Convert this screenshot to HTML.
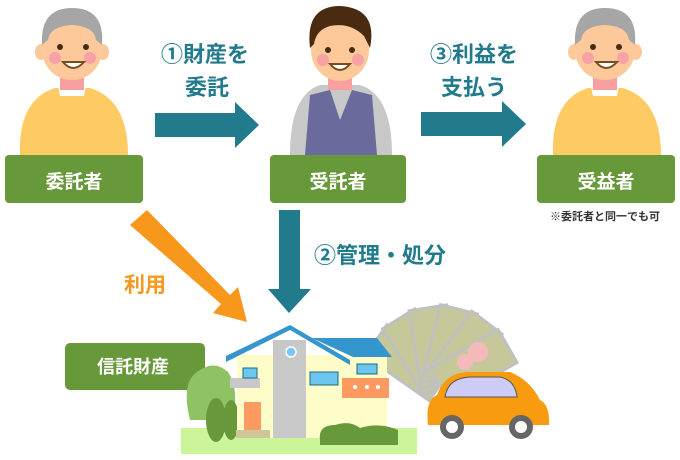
<!DOCTYPE html>
<html><head><meta charset="utf-8"><style>
html,body{margin:0;padding:0;background:#fff;width:680px;height:460px;overflow:hidden}
text{font-family:"Liberation Sans","Noto Sans CJK JP",sans-serif;font-weight:bold}
</style></head><body>
<svg width="680" height="460" viewBox="0 0 680 460" xmlns="http://www.w3.org/2000/svg">
<!-- person 1 -->
<g>
<path d="M20 155 Q18 100 55 88 L90 88 Q128 100 128 155 Z" fill="#fdca63"/>
<path d="M58 86 L86 86 L84 96 L60 96Z" fill="#fff"/>
<rect x="60" y="72" width="24" height="18" fill="#f8a0a0"/>
<ellipse cx="72" cy="50" rx="30" ry="30" fill="#fdc99a"/>
<ellipse cx="41" cy="52" rx="6" ry="8" fill="#fdc99a"/><ellipse cx="103" cy="52" rx="6" ry="8" fill="#fdc99a"/>
<path d="M42 45 Q40 8 72 8 Q105 8 102 45 L96 40 Q94 26 72 25 Q50 26 48 40Z" fill="#a6a6a6"/>
<circle cx="60" cy="47" r="3" fill="#4a2a10"/><circle cx="86" cy="47" r="3" fill="#4a2a10"/>
<circle cx="55" cy="58" r="6" fill="#f7a2a6"/><circle cx="90" cy="58" r="6" fill="#f7a2a6"/>
<path d="M63 62 Q73 74 84 62Z" fill="#fff" stroke="#7a4a20" stroke-width="2"/>
</g>
<rect x="5" y="155" width="138" height="48" rx="4" fill="#67993a"/>
<text x="74" y="188" font-size="19" fill="#fff" text-anchor="middle">委託者</text>
<!-- arrow1 -->
<path d="M155 113 H235 V102 L259 125 L235 148 V137 H155Z" fill="#217b8d"/>
<text x="205" y="62" font-size="22" fill="#217b8d" text-anchor="middle">①財産を</text>
<text x="207" y="95" font-size="22" fill="#217b8d" text-anchor="middle">委託</text>
<!-- person 2 -->
<g>
<path d="M290 155 Q290 95 320 85 L360 85 Q392 95 392 155 Z" fill="#c8c8c8"/>
<path d="M305 155 L310 95 L330 90 L340 120 L352 90 L372 95 L377 155Z" fill="#6a6a9c"/>
<rect x="328" y="72" width="24" height="18" fill="#f8a0a0"/>
<ellipse cx="340" cy="50" rx="29" ry="31" fill="#fdc99a"/>
<path d="M310 48 Q305 6 340 6 Q378 8 370 48 L364 36 Q350 22 330 26 Q316 30 314 44Z" fill="#4a2a10"/>
<circle cx="328" cy="50" r="3" fill="#4a2a10"/><circle cx="352" cy="50" r="3" fill="#4a2a10"/>
<circle cx="323" cy="60" r="6" fill="#f7a2a6"/><circle cx="358" cy="60" r="6" fill="#f7a2a6"/>
<path d="M330 64 Q340 76 350 64Z" fill="#fff" stroke="#7a4a20" stroke-width="2"/>
</g>
<rect x="270" y="155" width="136" height="48" rx="4" fill="#67993a"/>
<text x="338" y="188" font-size="19" fill="#fff" text-anchor="middle">受託者</text>
<!-- arrow3 -->
<path d="M421 112 H502 V101 L526 124 L502 147 V136 H421Z" fill="#217b8d"/>
<text x="474" y="62" font-size="22" fill="#217b8d" text-anchor="middle">③利益を</text>
<text x="474" y="95" font-size="22" fill="#217b8d" text-anchor="middle">支払う</text>
<!-- person 3 -->
<g>
<path d="M553 155 Q551 100 588 88 L623 88 Q661 100 661 155 Z" fill="#fdca63"/>
<path d="M591 86 L619 86 L617 96 L593 96Z" fill="#fff"/>
<rect x="593" y="72" width="24" height="18" fill="#f8a0a0"/>
<ellipse cx="605" cy="50" rx="30" ry="30" fill="#fdc99a"/>
<ellipse cx="574" cy="52" rx="6" ry="8" fill="#fdc99a"/><ellipse cx="636" cy="52" rx="6" ry="8" fill="#fdc99a"/>
<path d="M575 45 Q573 8 605 8 Q638 8 635 45 L629 40 Q627 26 605 25 Q583 26 581 40Z" fill="#a6a6a6"/>
<circle cx="593" cy="47" r="3" fill="#4a2a10"/><circle cx="619" cy="47" r="3" fill="#4a2a10"/>
<circle cx="588" cy="58" r="6" fill="#f7a2a6"/><circle cx="623" cy="58" r="6" fill="#f7a2a6"/>
<path d="M596 62 Q606 74 617 62Z" fill="#fff" stroke="#7a4a20" stroke-width="2"/>
</g>
<rect x="537" y="155" width="138" height="48" rx="4" fill="#67993a"/>
<text x="606" y="188" font-size="19" fill="#fff" text-anchor="middle">受益者</text>
<text x="605" y="220" font-size="11" fill="#333" text-anchor="middle">※委託者と同一でも可</text>
<!-- down arrow -->
<path d="M279 210 H300 V289 H311 L289 313 L268 289 H279Z" fill="#217b8d"/>
<text x="380" y="263" font-size="22" fill="#217b8d" text-anchor="middle">②管理・処分</text>
<!-- orange arrow -->
<path d="M130 225 L147 210 L230 295 L238 287 L247 322 L213 313 L221 304Z" fill="#f7981d"/>
<text x="145" y="292" font-size="21" fill="#f7981d" text-anchor="middle">利用</text>
<!-- trust property label -->
<rect x="65" y="343" width="140" height="47" rx="5" fill="#67993a"/>
<text x="133" y="373" font-size="18" fill="#fff" text-anchor="middle">信託財産</text>
<!-- ground -->
<rect x="181" y="428" width="236" height="26" fill="#ccf59a"/>
<!-- money fan -->
<g fill="#c7c89a" stroke="#c0c0c0" stroke-width="3">
<rect x="440" y="366" width="78" height="38" transform="rotate(-145 440 385)"/>
<rect x="440" y="366" width="78" height="38" transform="rotate(-122 440 385)"/>
<rect x="440" y="366" width="78" height="38" transform="rotate(-99 440 385)"/>
<rect x="440" y="366" width="78" height="38" transform="rotate(-76 440 385)"/>
<rect x="440" y="366" width="78" height="38" transform="rotate(-53 440 385)"/>
<rect x="440" y="366" width="78" height="38" transform="rotate(-30 440 385)"/>
</g>
<circle cx="478" cy="352" r="10" fill="#f6b9b9"/>
<circle cx="465" cy="362" r="8" fill="#f6b9b9"/>
<!-- trees -->
<path d="M190 420 Q180 380 200 370 Q215 360 228 372 Q240 390 232 420Z" fill="#8fc263"/>
<ellipse cx="216" cy="420" rx="10" ry="22" fill="#67993a"/><ellipse cx="231" cy="420" rx="8" ry="20" fill="#67993a"/>
<!-- house -->
<rect x="237" y="355" width="150" height="83" fill="#fefcc8"/>
<rect x="273" y="340" width="33" height="98" fill="#c8c8c8"/>
<path d="M226 362 L290 330 L350 365 L350 360 L290 325 L226 356Z" fill="#3496cc"/>
<path d="M312 338 L377 338 L392 357 L353 357Z" fill="#3496cc"/>
<circle cx="291" cy="352" r="5" fill="#7cc8f5" stroke="#fff" stroke-width="1.5"/>
<rect x="230" y="378" width="30" height="10" fill="#c8c8c8"/>
<rect x="243" y="368" width="14" height="10" fill="#6bc6f0" stroke="#1d6a7a"/>
<rect x="310" y="372" width="28" height="13" fill="#6bc6f0" stroke="#1d6a7a"/>
<rect x="357" y="364" width="20" height="10" fill="#6bc6f0" stroke="#1d6a7a"/>
<rect x="342" y="378" width="47" height="20" fill="#fd9a62"/>
<circle cx="355" cy="387" r="2" fill="#fff"/><circle cx="367" cy="387" r="2" fill="#fff"/><circle cx="378" cy="387" r="2" fill="#fff"/>
<rect x="244" y="402" width="17" height="28" fill="#fd9a62"/>
<rect x="236" y="430" width="34" height="8" fill="#cfc79a"/>
<path d="M320 440 Q318 425 335 425 Q350 420 360 428 Q380 422 398 430 L398 445 L320 445Z" fill="#67993a"/>
<!-- car -->
<path d="M428 425 Q425 400 437 395 Q445 372 470 372 L510 372 Q530 380 540 400 Q550 405 549 425Z" fill="#f99b0e"/>
<path d="M445 397 Q448 378 470 377 L500 377 Q515 380 517 397Z" fill="#ccccf5" stroke="#555" stroke-width="1"/>
<circle cx="452" cy="427" r="12" fill="#666"/><circle cx="452" cy="427" r="6" fill="#fff"/>
<circle cx="521" cy="427" r="12" fill="#666"/><circle cx="521" cy="427" r="6" fill="#fff"/>
</svg>
</body></html>
